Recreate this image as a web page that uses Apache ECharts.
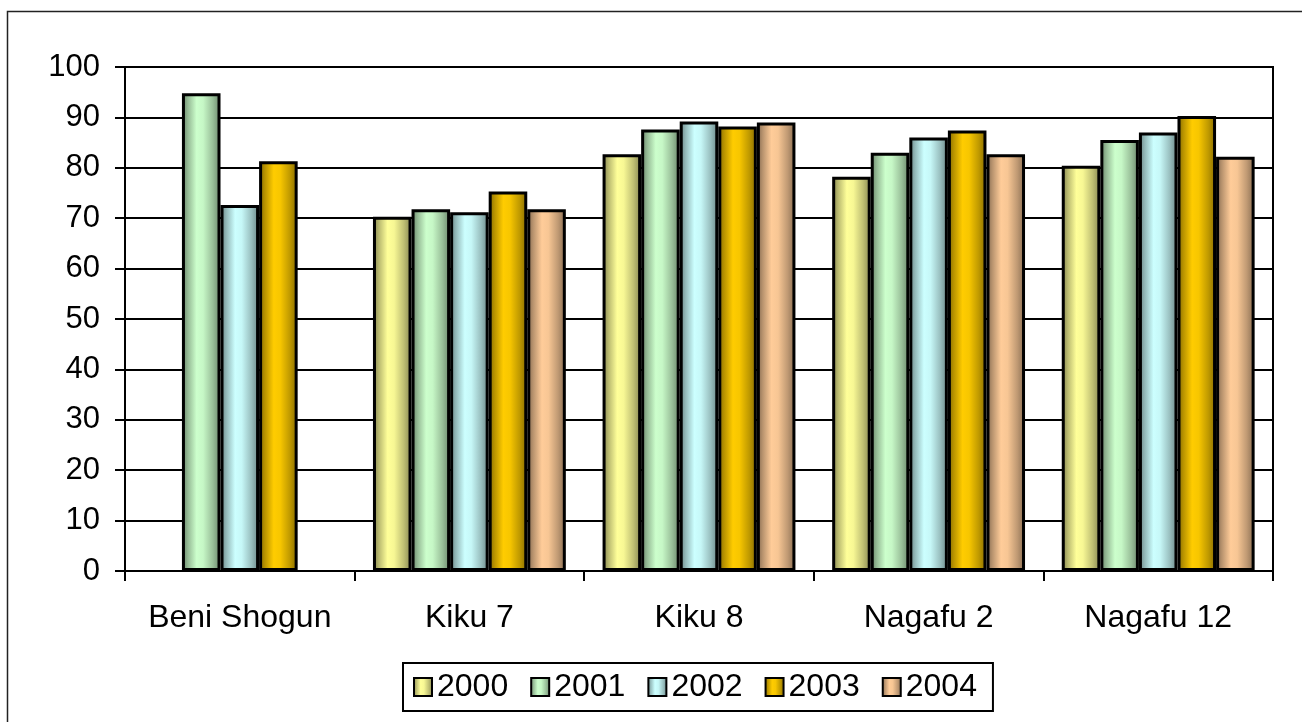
<!DOCTYPE html>
<html>
<head>
<meta charset="utf-8">
<script src="https://cdn.jsdelivr.net/npm/echarts@6/dist/echarts.min.js"></script>
<style>
  html, body { margin: 0; padding: 0; background: #fff; }
  #chart { width: 1302px; height: 722px; }
</style>
</head>
<body>
<div id="chart"></div>
<script>
// Cultivar names along the x axis
const categories = ['Beni Shogun', 'Kiku 7', 'Kiku 8', 'Nagafu 2', 'Nagafu 12'];

// Yearly values per cultivar (null = no measurement that year)
const years = ['2000', '2001', '2002', '2003', '2004'];
const values2000 = [null, 70.3, 82.7, 78.2, 80.4];
const values2001 = [94.8, 71.8, 87.6, 83.0, 85.5];
const values2002 = [72.6, 71.2, 89.2, 86.0, 87.0];
const values2003 = [81.3, 75.3, 88.2, 87.4, 90.3];
const values2004 = [null, 71.8, 89.0, 82.7, 82.2];

const baseColors = ['#FFFF99', '#CCFFCC', '#CCFFFF', '#FFCC00', '#FFCC99'];
const seriesValues = [values2000, values2001, values2002, values2003, values2004];

const FONT = "'Liberation Sans', Arial, sans-serif";

function shade(hex, f) {
  const n = parseInt(hex.slice(1), 16);
  const r = Math.round(((n >> 16) & 255) * f);
  const g = Math.round(((n >> 8) & 255) * f);
  const b = Math.round((n & 255) * f);
  return 'rgb(' + r + ',' + g + ',' + b + ')';
}

// Cylinder-like horizontal shading: dark edges, bright band left of centre
function cylinder(hex) {
  return new echarts.graphic.LinearGradient(0, 0, 1, 0, [
    { offset: 0.00, color: shade(hex, 0.50) },
    { offset: 0.15, color: shade(hex, 0.72) },
    { offset: 0.38, color: shade(hex, 1.00) },
    { offset: 0.55, color: shade(hex, 0.97) },
    { offset: 0.80, color: shade(hex, 0.75) },
    { offset: 1.00, color: shade(hex, 0.52) }
  ]);
}

const series = years.map((y, i) => ({
  name: y,
  type: 'bar',
  data: seriesValues[i],
  barGap: '0%',
  barCategoryGap: '16%',
  itemStyle: {
    color: cylinder(baseColors[i]),
    borderColor: '#000',
    borderWidth: 3
  },
  emphasis: { disabled: true }
}));

const chart = echarts.init(document.getElementById('chart'), null, { renderer: 'canvas' });
chart.setOption({
  animation: false,
  backgroundColor: '#fff',
  textStyle: { fontFamily: FONT, color: '#000' },
  graphic: [{
    type: 'rect',
    left: 5, top: 9,
    shape: { x: 0, y: 0, width: 1400, height: 800 },
    style: { fill: 'none', stroke: '#222', lineWidth: 1.5 },
    silent: true,
    z: -1
  }],
  grid: {
    left: 125, right: 29, top: 67, bottom: 151,
    show: true, borderColor: '#000', borderWidth: 2,
    containLabel: false
  },
  legend: {
    left: 403, top: 663,
    padding: [8, 16, 8, 10],
    icon: 'rect',
    itemWidth: 18, itemHeight: 18, itemGap: 22,
    borderColor: '#000', borderWidth: 2,
    backgroundColor: '#fff',
    textStyle: { fontSize: 32, fontFamily: FONT, color: '#000', padding: [2, 0, 0, 0] },
    itemStyle: { borderWidth: 2, borderColor: '#000' },
    data: years
  },
  xAxis: {
    type: 'category',
    data: categories,
    axisLine: { lineStyle: { color: '#000', width: 2 } },
    axisTick: { show: true, interval: 0, length: 10, lineStyle: { color: '#000', width: 2 } },
    axisLabel: { interval: 0, fontSize: 32, fontFamily: FONT, color: '#000', margin: 31 }
  },
  yAxis: {
    type: 'value',
    min: 0, max: 100, interval: 10,
    axisLine: { show: true, lineStyle: { color: '#000', width: 2 } },
    axisTick: { show: true, length: 10, lineStyle: { color: '#000', width: 2 } },
    axisLabel: { fontSize: 31, fontFamily: FONT, color: '#000', margin: 25 },
    splitLine: { show: true, lineStyle: { color: '#000', width: 2 } }
  },
  series: series
});
</script>
</body>
</html>
